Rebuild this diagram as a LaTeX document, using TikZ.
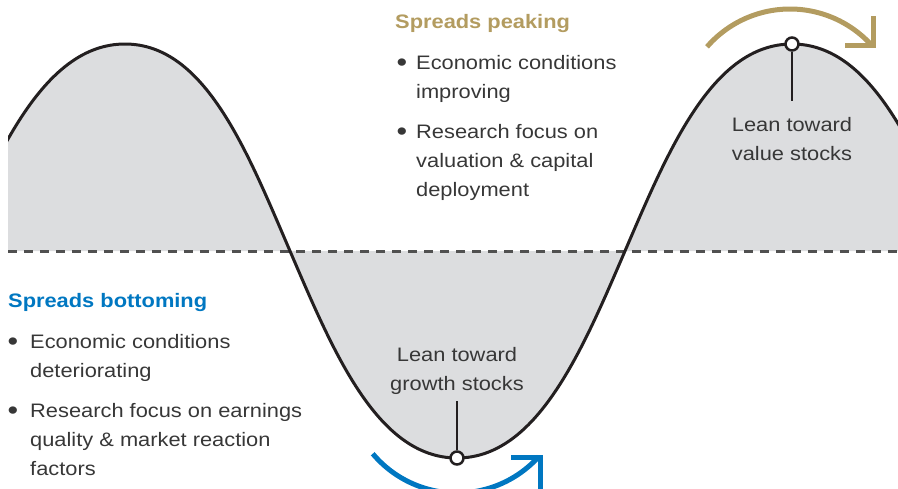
\documentclass[tikz,border=0pt]{standalone}
\usepackage{fontspec}
\setmainfont{Liberation Sans}[FakeStretch=1.12]
\definecolor{goldc}{RGB}{179,156,96}
\definecolor{bluec}{RGB}{0,119,193}
\definecolor{textgray}{RGB}{55,55,55}
\definecolor{fillgray}{RGB}{220,221,223}
\definecolor{dashgray}{RGB}{80,80,80}
\definecolor{curvecol}{RGB}{35,31,32}
\begin{document}
\begin{tikzpicture}[x=1pt,y=1pt,
  txt/.style={font=\fontsize{19.5}{29}\selectfont, text=textgray, inner sep=0pt, align=left, anchor=base west},
  ctxt/.style={font=\fontsize{19.5}{29}\selectfont, text=textgray, inner sep=0pt, align=center, anchor=base},
  head/.style={font=\fontsize{19.5}{29}\selectfont\bfseries, inner sep=0pt, anchor=base west},
  bul/.style={font=\fontsize{27}{29}\selectfont, text=textgray, inner sep=0pt, anchor=base},
  dotmark/.style={circle, draw=curvecol, fill=white, line width=2.5pt, minimum size=13pt, inner sep=0pt},
  tickline/.style={draw=curvecol, line width=2.5pt},
  arr/.style={line width=5pt, line join=miter}
]
\useasboundingbox (0,0) rectangle (898,-488);
\clip (0,0) rectangle (898,-488);
% wave
\begin{scope}
\clip (8,0) rectangle (898,-488);
\fill[fillgray] (-45,-251) .. controls (-2,-151) and (45,-44) .. (125,-44)
  .. controls (205,-44) and (247,-151) .. (290,-251)
  .. controls (333,-351) and (377,-458) .. (457,-458)
  .. controls (537,-458) and (582,-351) .. (625,-251)
  .. controls (668,-151) and (712,-44) .. (792,-44)
  .. controls (872,-44) and (916,-151) .. (959,-251) -- cycle;
\draw[dashgray, line width=3pt, dash pattern=on 8.5pt off 7.5pt] (8,-251) -- (898,-251);
\draw[curvecol, line width=3pt] (-45,-251) .. controls (-2,-151) and (45,-44) .. (125,-44)
  .. controls (205,-44) and (247,-151) .. (290,-251)
  .. controls (333,-351) and (377,-458) .. (457,-458)
  .. controls (537,-458) and (582,-351) .. (625,-251)
  .. controls (668,-151) and (712,-44) .. (792,-44)
  .. controls (872,-44) and (916,-151) .. (959,-251);
\end{scope}
% markers
\coordinate (peaktick) at (792,-101);
\coordinate (troughtick) at (457,-401);
\node[dotmark] (peakdot) at (792,-44) {};
\node[dotmark] (troughdot) at (457,-458) {};
\draw[tickline] (peakdot) -- (peaktick);
\draw[tickline] (troughdot) -- (troughtick);
\node[ctxt] (valuetxt) at (792,-160) {Lean toward\\value stocks};
\node[ctxt] (growthtxt) at (457,-390) {Lean toward\\growth stocks};
% top text
\node[head, text=goldc] (peakhead) at (395,-28) {Spreads peaking};
\node[bul] (b1) at (402,-71.5) {•};
\node[txt] (t1) at (416,-98) {Economic conditions\\improving};
\node[bul] (b2) at (402,-140.5) {•};
\node[txt] (t2) at (416,-196) {Research focus on\\valuation \& capital\\deployment};
% bottom text
\node[head, text=bluec] (bothead) at (8,-307) {Spreads bottoming};
\node[bul] (b3) at (13,-350.5) {•};
\node[txt] (t3) at (30,-377) {Economic conditions\\deteriorating};
\node[bul] (b4) at (13,-419.5) {•};
\node[txt] (t4) at (30,-475) {Research focus on earnings\\quality \& market reaction\\factors};
% arrows
\coordinate (topc) at (790,-119);
\coordinate (topa) at (873,-16);
\coordinate (topb) at (873,-45);
\coordinate (topd) at (845,-45);
\draw[goldc, arr] (topc) ++(139:110) arc[start angle=139, end angle=42, radius=110];
\draw[goldc, arr] (topa) -- (topb) -- (topd);
\coordinate (botc) at (457,-383);
\coordinate (bota) at (511,-457.5);
\coordinate (botb) at (540.5,-457.5);
\coordinate (botd) at (540.5,-492);
\draw[bluec, arr] (botc) ++(220:110) arc[start angle=220, end angle=318, radius=110];
\draw[bluec, arr] (bota) -- (botb) -- (botd);
\end{tikzpicture}
\end{document}
